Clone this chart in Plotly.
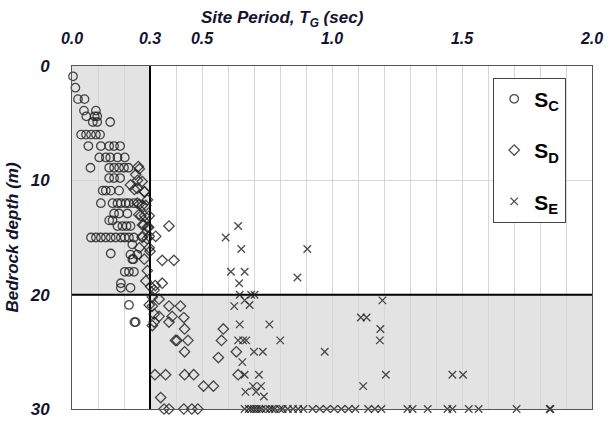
import plotly.graph_objects as go

# ---- data (Site period T_G [sec], bedrock depth [m]) ----
sc_period = [0.004, 0.013, 0.023, 0.048, 0.046, 0.092, 0.055, 0.087, 0.097, 0.080, 0.097, 0.147,
             0.035, 0.054, 0.073, 0.092, 0.108,
             0.063, 0.111, 0.143, 0.162, 0.185,
             0.105, 0.130, 0.147, 0.175, 0.203,
             0.071, 0.143, 0.162, 0.181, 0.200, 0.217,
             0.143, 0.162, 0.185,
             0.118, 0.130, 0.149, 0.181,
             0.111, 0.156, 0.175, 0.188, 0.206, 0.219, 0.238,
             0.162, 0.181, 0.213, 0.143, 0.156,
             0.175, 0.194, 0.210, 0.225,
             0.073, 0.092, 0.111, 0.130, 0.149, 0.168, 0.188, 0.203, 0.219, 0.238,
             0.232, 0.149, 0.225, 0.236, 0.251, 0.232,
             0.203, 0.219, 0.238,
             0.188, 0.188, 0.225,
             0.219, 0.240, 0.245]
sc_depth = [0.9, 1.9, 2.9, 2.9, 3.9, 3.9, 4.4, 4.4, 4.4, 4.9, 4.9, 4.9,
            6.0, 6.0, 6.0, 6.0, 6.0,
            7.0, 7.0, 7.0, 7.0, 7.0,
            8.0, 8.0, 8.0, 8.0, 8.0,
            8.9, 8.9, 8.9, 8.9, 8.9, 8.9,
            9.8, 9.8, 9.8,
            10.9, 10.9, 10.9, 10.9,
            12.0, 12.0, 12.0, 12.0, 12.0, 12.0, 12.0,
            12.9, 12.9, 12.9, 13.5, 13.5,
            14.0, 14.0, 14.0, 14.0,
            15.0, 15.0, 15.0, 15.0, 15.0, 15.0, 15.0, 15.0, 15.0, 15.0,
            15.6, 16.4, 16.5, 16.9, 16.5, 16.9,
            18.0, 18.0, 18.0,
            19.0, 19.4, 19.4,
            20.9, 22.4, 22.4]

sd_period = [0.255, 0.245, 0.270, 0.225, 0.251, 0.279, 0.259, 0.252, 0.240, 0.278, 0.290,
             0.259, 0.284, 0.265, 0.297, 0.271, 0.290, 0.297, 0.322, 0.271, 0.297, 0.259,
             0.278, 0.290, 0.284, 0.316, 0.303, 0.347, 0.251, 0.270, 0.257, 0.279,
             0.276, 0.295, 0.270, 0.289, 0.300,
             0.373, 0.347, 0.392, 0.320, 0.309, 0.335, 0.373, 0.417, 0.309,
             0.335, 0.385, 0.430, 0.316, 0.373, 0.433, 0.582,
             0.398, 0.404, 0.446, 0.575, 0.433, 0.632, 0.563,
             0.319, 0.360, 0.433, 0.468, 0.639, 0.506, 0.544, 0.341,
             0.354, 0.373, 0.430, 0.461, 0.484, 0.297, 0.316, 0.309]
sd_depth = [8.8, 9.5, 10.1, 10.4, 10.7, 11.0, 9.0, 10.0, 10.8, 11.0, 11.7,
            12.1, 12.2, 13.1, 13.1, 13.9, 14.1, 14.9, 14.9, 14.9, 15.9, 15.9,
            16.9, 17.9, 18.8, 19.6, 19.3, 19.0, 12.0, 12.2, 13.0, 13.1,
            13.9, 14.1, 15.0, 15.1, 16.2,
            14.0, 17.0, 17.0, 19.2, 20.2, 20.4, 21.0, 21.0, 21.0,
            21.9, 21.9, 22.0, 22.4, 22.4, 23.0, 23.0,
            24.0, 24.0, 24.0, 24.0, 25.0, 25.0, 25.5,
            27.0, 27.0, 27.0, 27.0, 27.0, 28.0, 28.0, 29.0,
            30.0, 30.0, 30.0, 30.0, 30.0, 20.9, 21.7, 22.7]

se_period = [0.639, 0.591, 0.651, 0.905, 0.611, 0.664, 0.867, 0.643,
             0.645, 0.689, 0.702, 0.664, 0.683, 0.624,
             0.645, 0.759, 1.194, 1.111, 1.133, 1.186,
             0.639, 0.658, 0.670, 0.801, 1.184,
             0.700, 0.734, 0.972, 0.655,
             0.664, 0.719, 1.207, 1.463, 1.504,
             0.696, 0.727, 1.120, 0.667, 0.708, 0.738,
             0.664, 0.680, 0.690, 0.700, 0.710, 0.720, 0.730, 0.745, 0.760,
             0.770, 0.780, 0.800, 0.810, 0.830, 0.850, 0.870, 0.890,
             0.925, 0.953, 0.980, 1.008, 1.036, 1.064, 1.090,
             1.139, 1.165, 1.190, 1.290, 1.310, 1.368, 1.444, 1.463,
             1.526, 1.564, 1.710, 1.837, 1.840]
se_depth = [14.0, 15.0, 16.0, 16.0, 18.0, 18.0, 18.5, 19.0,
            20.0, 20.0, 20.0, 20.5, 20.9, 21.0,
            22.6, 22.6, 20.5, 22.0, 22.0, 23.0,
            24.0, 24.0, 24.0, 24.0, 24.0,
            25.0, 25.0, 25.0, 25.9,
            27.0, 27.0, 27.0, 27.0, 27.0,
            28.0, 28.0, 28.0, 28.5, 28.5, 28.9,
            30, 30, 30, 30, 30, 30, 30, 30, 30,
            30, 30, 30, 30, 30, 30, 30, 30,
            30, 30, 30, 30, 30, 30, 30,
            30, 30, 30, 30, 30, 30, 30, 30,
            30, 30, 30, 30, 30]

tick_vals = [0.0, 0.3, 0.5, 1.0, 1.5, 2.0]
tick_text = ["0.0", "0.3", "0.5", "1.0", "1.5", "2.0"]
depth_ticks = [0, 10, 20, 30]
T_LIMIT = 0.3
D_LIMIT = 20

FONT = "Liberation Sans, Arial, sans-serif"
TXT = "#14142e"
MK = "rgba(30,30,30,0.8)"

fig = go.Figure()
fig.add_trace(go.Scatter(x=sc_period, y=sc_depth, mode="markers", name="<b>S<sub>C</sub></b>",
                         legendgroup="c", cliponaxis=False,
                         marker=dict(symbol="circle-open", size=8.5, color=MK, line=dict(width=1.3))))
fig.add_trace(go.Scatter(x=sd_period, y=sd_depth, mode="markers", name="<b>S<sub>D</sub></b>",
                         legendgroup="d", cliponaxis=False,
                         marker=dict(symbol="diamond-open", size=8, color=MK, line=dict(width=1.3))))
fig.add_trace(go.Scatter(x=se_period, y=se_depth, mode="markers", name="<b>S<sub>E</sub></b>",
                         legendgroup="e", cliponaxis=False,
                         marker=dict(symbol="x-thin-open", size=7.5, color=MK, line=dict(width=1.3, color=MK))))

shade = "#e3e3e3"
fig.add_shape(type="rect", xref="x", yref="y", x0=0, x1=T_LIMIT, y0=0, y1=D_LIMIT,
              fillcolor=shade, line_width=0, layer="below")
fig.add_shape(type="rect", xref="x", yref="y", x0=T_LIMIT, x1=2.0, y0=D_LIMIT, y1=30,
              fillcolor=shade, line_width=0, layer="below")
fig.add_shape(type="line", xref="x", yref="y", x0=T_LIMIT, x1=T_LIMIT, y0=0, y1=30,
              line=dict(color="black", width=2), layer="between")
fig.add_shape(type="line", xref="x", yref="y", x0=0, x1=2.0, y0=D_LIMIT, y1=D_LIMIT,
              line=dict(color="black", width=2), layer="between")

fig.add_annotation(text="Site Period, T<sub>G</sub> (sec)", xref="paper", yref="paper",
                   x=0.405, y=1.136, xanchor="center", yanchor="middle", showarrow=False,
                   font=dict(size=17, family=FONT, weight="bold", style="italic", color=TXT))

fig.update_layout(
    width=615, height=431,
    margin=dict(l=72, r=15, t=66, b=12),
    paper_bgcolor="white", plot_bgcolor="white",
    font=dict(family=FONT, color=TXT),
    showlegend=True,
    legend=dict(x=0.81, y=0.966, xanchor="left", yanchor="top",
                bgcolor="white", bordercolor="#444", borderwidth=1,
                font=dict(size=21, family=FONT, color="black"),
                tracegroupgap=21, itemwidth=30),
    xaxis=dict(side="top", range=[0, 2.0], tickvals=tick_vals, ticktext=tick_text,
               tickfont=dict(size=16, weight="bold", style="italic", color=TXT),
               ticks="", ticklabelstandoff=15,
               showgrid=True, gridcolor="#d6d6d6", gridwidth=1,
               minor=dict(dtick=0.1, showgrid=True, gridcolor="#d6d6d6", gridwidth=1),
               showline=True, linecolor="#555", linewidth=1, mirror=True, zeroline=False),
    yaxis=dict(range=[30, 0], tickvals=depth_ticks,
               tickfont=dict(size=17, weight="bold", style="italic", color=TXT),
               ticks="", ticklabelstandoff=18,
               showgrid=True, gridcolor="#d6d6d6", gridwidth=1,
               showline=True, linecolor="#555", linewidth=1, mirror=True, zeroline=False,
               title=dict(text="Bedrock depth (m)", standoff=6,
                          font=dict(size=17, weight="bold", style="italic", color=TXT))),
)

fig.write_html("out.html")
